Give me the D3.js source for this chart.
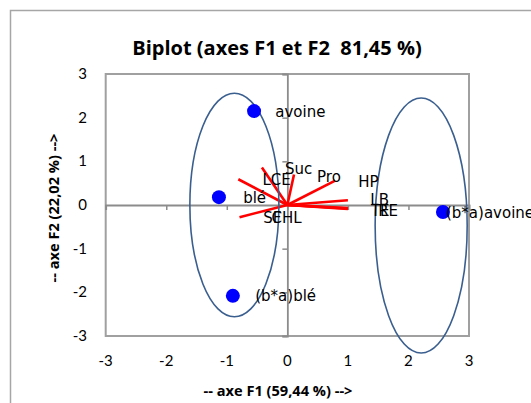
<!DOCTYPE html>
<html><head><meta charset="utf-8">
<script src="https://cdn.jsdelivr.net/npm/d3@7"></script>
<style>html,body{margin:0;padding:0;background:#fff;overflow:hidden} text{white-space:pre}</style>
</head><body>
<script>
// ---- data ----
const title = "Biplot (axes F1 et F2  81,45 %)";
const xTitle = "-- axe F1 (59,44 %) -->";
const yTitle = "-- axe F2 (22,02 %) -->";
const tickValues = [-3, -2, -1, 0, 1, 2, 3];

// observations
const obsNames = ["avoine", "blé", "(b*a)blé", "(b*a)avoine"];
const obsF1 = [-0.55, -1.13, -0.90, 2.57];
const obsF2 = [2.15, 0.18, -2.08, -0.16];
const obsLabelF1 = [-0.20, -0.73, -0.53, 2.62];
const obsLabelF2 = [2.13, 0.16, -2.08, -0.18];

// variables (vectors)
const varNames = ["LCE", "Suc", "Pro", "HP", "LB", "TE", "RE", "SF", "CHL"];
const varF1 = [-0.42, 0.11, 0.79, 1.00, 1.00, 1.00, 1.00, -0.79, -0.81];
const varF2 = [0.86, 0.70, 0.56, 0.11, -0.08, -0.09, -0.07, -0.28, 0.59];
const varLabelF1 = [-0.41, -0.04, 0.49, 1.17, 1.37, 1.38, 1.50, -0.40, -0.26];
const varLabelF2 = [0.57, 0.82, 0.65, 0.53, 0.13, -0.13, -0.13, -0.30, -0.30];

// group ellipses (centre F1, centre F2, radius F1, radius F2)
const ellCx = [-0.875, 2.21];
const ellCy = [0.0, -0.47];
const ellRx = [0.735, 0.76];
const ellRy = [2.56, 2.92];

// ---- drawing ----
const W = 531, H = 403;
const svg = d3.select("body").append("svg").attr("width", W).attr("height", H);

svg.append("rect").attr("x", 10.5).attr("y", 10.5).attr("width", 700).attr("height", 600)
  .attr("fill", "#fff").attr("stroke", "#a6a6a6").attr("stroke-width", 1.5);

const x = d3.scaleLinear().domain([-3, 3]).range([105.7, 469]);
const y = d3.scaleLinear().domain([-3, 3]).range([336, 74]);

const lblFont = "Lato, 'Open Sans', sans-serif";
const boldFont = "'Open Sans', Lato, sans-serif";
const dataFont = "'DejaVu Sans', sans-serif";

// title
svg.append("text").attr("x", 277).attr("y", 55).attr("text-anchor", "middle")
  .attr("font-family", boldFont).attr("font-weight", "bold").attr("font-size", 20)
  .text(title);

// plot frame
svg.append("rect").attr("x", x(-3)).attr("y", y(3)).attr("width", x(3) - x(-3)).attr("height", y(-3) - y(3))
  .attr("fill", "none").attr("stroke", "#a0a0a0").attr("stroke-width", 2);

// axes through origin
const xAxis = d3.axisBottom(x).tickValues(tickValues).tickSize(5).tickFormat("");
const yAxis = d3.axisLeft(y).tickValues(tickValues).tickSize(5).tickFormat("");
const gx = svg.append("g").attr("transform", `translate(0,${y(0)})`).call(xAxis);
const gy = svg.append("g").attr("transform", `translate(${x(0)},0)`).call(yAxis);
[gx, gy].forEach(g => {
  g.select(".domain").attr("stroke", "#8c8c8c").attr("stroke-width", 1.8);
  g.selectAll(".tick line").attr("stroke", "#8c8c8c").attr("stroke-width", 1.5);
});

// tick labels outside
svg.append("g").selectAll("text").data(tickValues).join("text")
  .attr("x", d => x(d)).attr("y", 366).attr("text-anchor", "middle")
  .attr("font-family", lblFont).attr("font-size", 15).text(d => d);
svg.append("g").selectAll("text").data(tickValues).join("text")
  .attr("x", 87).attr("y", d => y(d) + 5).attr("text-anchor", "end")
  .attr("font-family", lblFont).attr("font-size", 15).text(d => d);

// axis titles
svg.append("text").attr("x", 278).attr("y", 396).attr("text-anchor", "middle")
  .attr("font-family", boldFont).attr("font-weight", "bold").attr("font-size", 14.6).text(xTitle);
svg.append("text").attr("transform", `translate(59,208) rotate(-90)`).attr("text-anchor", "middle")
  .attr("font-family", boldFont).attr("font-weight", "bold").attr("font-size", 14.6).text(yTitle);

// vectors
svg.append("g").selectAll("line").data(varNames).join("line")
  .attr("x1", x(0)).attr("y1", y(0))
  .attr("x2", (d, i) => x(varF1[i])).attr("y2", (d, i) => y(varF2[i]))
  .attr("stroke", "#ff0000").attr("stroke-width", 2.6);

// ellipses
svg.append("g").selectAll("ellipse").data(ellCx).join("ellipse")
  .attr("cx", d => x(d)).attr("cy", (d, i) => y(ellCy[i]))
  .attr("rx", (d, i) => x(d + ellRx[i]) - x(d))
  .attr("ry", (d, i) => y(ellCy[i]) - y(ellCy[i] + ellRy[i]))
  .attr("fill", "none").attr("stroke", "#3a5f8f").attr("stroke-width", 1.6);

// observation points
svg.append("g").selectAll("circle").data(obsNames).join("circle")
  .attr("cx", (d, i) => x(obsF1[i])).attr("cy", (d, i) => y(obsF2[i]))
  .attr("r", 7).attr("fill", "#0000ff");

// labels
svg.append("g").selectAll("text").data(obsNames).join("text")
  .attr("x", (d, i) => x(obsLabelF1[i])).attr("y", (d, i) => y(obsLabelF2[i]))
  .attr("dy", "0.35em").attr("font-family", dataFont).attr("font-size", 15).text(d => d);
svg.append("g").selectAll("text").data(varNames).join("text")
  .attr("x", (d, i) => x(varLabelF1[i])).attr("y", (d, i) => y(varLabelF2[i]))
  .attr("dy", "0.35em").attr("font-family", dataFont).attr("font-size", 15).text(d => d);
</script>
</body></html>
